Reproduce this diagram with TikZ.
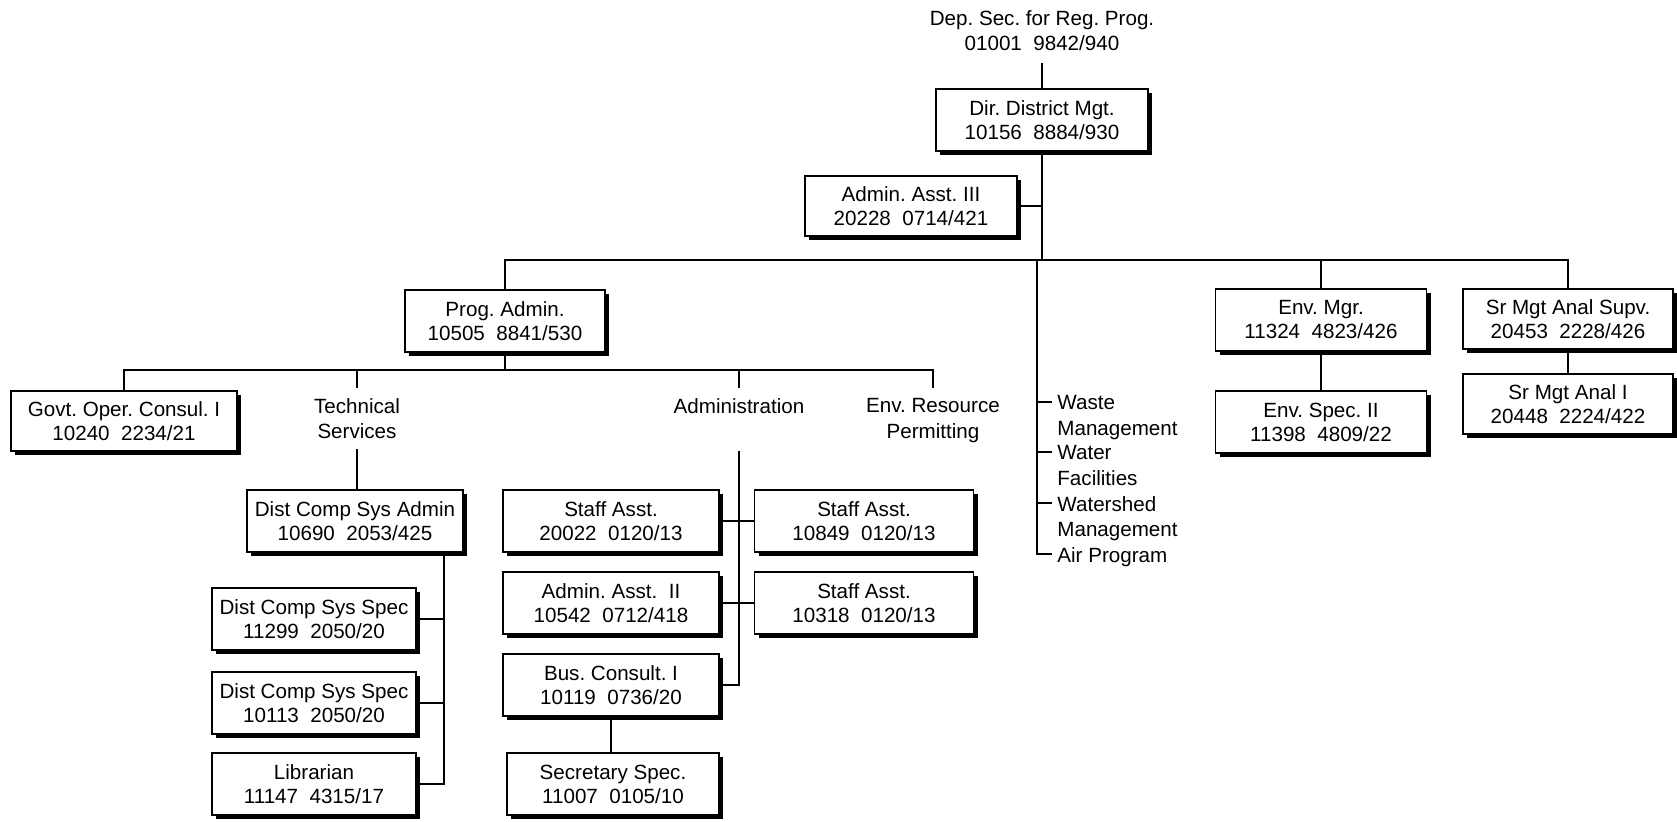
\documentclass[tikz,border=0pt]{standalone}
\usepackage{fontspec}
\setmainfont{Liberation Sans}
\usetikzlibrary{shadows}
\frenchspacing
\begin{document}
\begin{tikzpicture}[x=0.5pt,y=-0.5pt,
  post/.style={draw=black, line width=0.9pt, fill=white, minimum height=31pt,
    inner xsep=2pt, inner ysep=0pt, align=center,
    font=\fontsize{10.3}{12}\selectfont,
    drop shadow={shadow xshift=2.2pt, shadow yshift=-2pt, fill=black, opacity=1}},
  unit/.style={align=center, inner xsep=0pt, inner ysep=5pt, anchor=north,
    font=\fontsize{10.3}{12.75}\selectfont},
  prog/.style={align=left, inner sep=0pt, anchor=north west,
    font=\fontsize{10.3}{12.75}\selectfont},
  link/.style={draw=black, line width=0.9pt}]
\useasboundingbox (0,0) rectangle (1677,821);

% top of the chart
\node[unit, inner ysep=6pt] (depsec) at (1042,-2) {Dep. Sec. for Reg. Prog.\\01001~~9842/940};
\node[post, minimum width=106pt] (dir) at (1042,120) {Dir. District Mgt.\\10156~~8884/930};
\node[post, minimum width=106pt, minimum height=30pt] (adminiii) at (911,206) {Admin. Asst. III\\20228~~0714/421};

% second level
\node[post, minimum width=100pt] (prog) at (505,321) {Prog. Admin.\\10505~~8841/530};
\node[post, minimum width=105.5pt] (envmgr) at (1321,320) {Env. Mgr.\\11324~~4823/426};
\node[post, minimum width=105.5pt] (envspec) at (1321,422) {Env. Spec. II\\11398~~4809/22};
\node[post, minimum width=105pt, minimum height=30pt] (srsupv) at (1568,319) {Sr Mgt Anal Supv.\\20453~~2228/426};
\node[post, minimum width=105pt, minimum height=30pt] (sranal) at (1568,404) {Sr Mgt Anal I\\20448~~2224/422};

% programs
\node[prog] (waste) at (1057,395) {Waste\\Management};
\node[prog] (water) at (1057,445) {Water\\Facilities};
\node[prog] (wshed) at (1057,496) {Watershed\\Management};
\node[prog] (air) at (1057,547) {Air Program};

% units under Prog. Admin.
\node[post, minimum width=113pt, minimum height=30pt] (govt) at (124,421) {Govt. Oper. Consul. I\\10240~~2234/21};
\node[unit] (techsvc) at (357,388) {Technical\\Services};
\node[unit] (admin) at (739,388) {Administration};
\node[unit] (envres) at (933,388) {Env. Resource\\Permitting};

% Technical Services
\node[post, minimum width=108pt] (dcsa) at (355,521) {Dist Comp Sys Admin\\10690~~2053/425};
\node[post, minimum width=102pt] (dcss1) at (314,619) {Dist Comp Sys Spec\\11299~~2050/20};
\node[post, minimum width=102pt] (dcss2) at (314,703) {Dist Comp Sys Spec\\10113~~2050/20};
\node[post, minimum width=102pt] (lib) at (314,784) {Librarian\\11147~~4315/17};

% Administration
\node[post, minimum width=108pt] (staff1) at (611,521) {Staff Asst.\\20022~~0120/13};
\node[post, minimum width=109.5pt] (staff2) at (864,521) {Staff Asst.\\10849~~0120/13};
\node[post, minimum width=108pt] (adminii) at (611,603) {Admin. Asst.~~II\\10542~~0712/418};
\node[post, minimum width=109.5pt] (staff4) at (864,603) {Staff Asst.\\10318~~0120/13};
\node[post, minimum width=108pt] (buscons) at (611,685) {Bus. Consult. I\\10119~~0736/20};
\node[post, minimum width=106pt] (secspec) at (613,784) {Secretary Spec.\\11007~~0105/10};

% junction points
\coordinate (mbus) at (1042,260);
\coordinate (wtop) at (1037,260);
\coordinate (pbus) at (505,370);
\coordinate (adminv) at (739,451);
\coordinate (dv) at (444,560);

% connectors: top
\draw[link] (depsec.south) -- (dir.north);
\draw[link] (dir.south) -- (mbus);
\draw[link] (adminiii.east) -- (adminiii.east -| mbus);
\draw[link] (prog.north) |- (mbus) -| (srsupv.north);
\draw[link] (envmgr.north) -- (envmgr.north |- mbus);
\draw[link] (envmgr.south) -- (envspec.north);
\draw[link] (srsupv.south) -- (sranal.north);

% connectors: programs
\draw[link] (wtop) |- ([shift={(-5,7)}]air.north west);
\foreach \n in {waste,water,wshed}
  \draw[link] ([shift={(-20,7)}]\n.north west) -- ([shift={(-5,7)}]\n.north west);

% connectors: Prog. Admin.
\draw[link] (prog.south) -- (pbus);
\draw[link] (govt.north) |- (pbus) -| (envres.north);
\draw[link] (techsvc.north) -- (techsvc.north |- pbus);
\draw[link] (admin.north) -- (admin.north |- pbus);

% connectors: Technical Services
\draw[link] (techsvc.south) -- (techsvc.south |- dcsa.north);
\draw[link] (dcsa.south -| dv) |- (lib.east);
\draw[link] (dcss1.east) -- (dcss1.east -| dv);
\draw[link] (dcss2.east) -- (dcss2.east -| dv);

% connectors: Administration
\draw[link] (adminv) |- (buscons.east);
\draw[link] (staff1.east) -- (staff2.west);
\draw[link] (adminii.east) -- (staff4.west);
\draw[link] (buscons.south) -- (buscons.south |- secspec.north);
\end{tikzpicture}
\end{document}
